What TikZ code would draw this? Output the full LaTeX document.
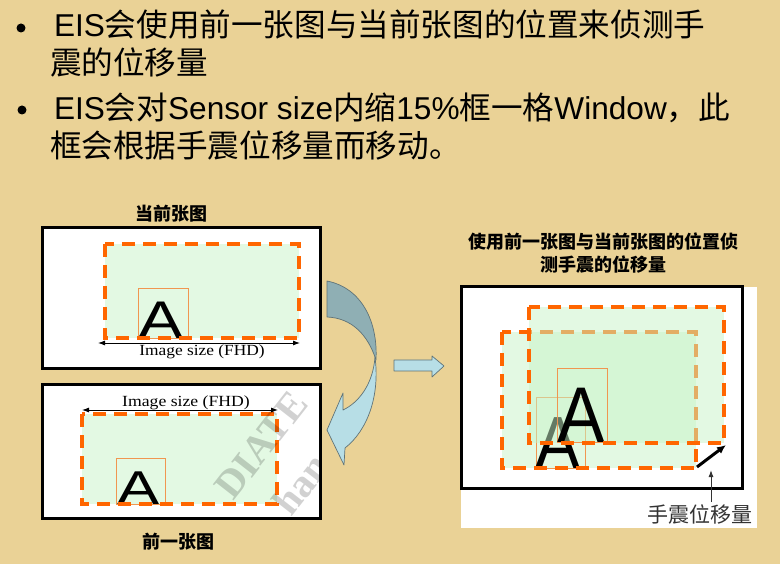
\documentclass[tikz,border=0pt]{standalone}
\usepackage{fontspec}
\setmainfont{Liberation Sans}
\newfontfamily\cjkf{Noto Sans CJK SC}
\newfontfamily\serifl{Liberation Serif}
\usetikzlibrary{arrows.meta}
\definecolor{bgtan}{RGB}{234,210,150}
\definecolor{eisorange}{RGB}{255,102,0}
\definecolor{thinorange}{RGB}{240,150,80}
\definecolor{winfill}{RGB}{200,245,200}
\definecolor{darkteal}{RGB}{143,175,180}
\definecolor{lightteal}{RGB}{183,222,230}
\definecolor{tealedge}{RGB}{95,115,120}
\newcommand{\Lt}[1]{{\fontsize{31.6}{31.6}\selectfont #1}}
\newcommand{\Ck}[1]{{\cjkf\fontsize{31.6}{31.6}\selectfont #1}}
\tikzset{
  txt/.style={inner sep=0pt, outer sep=0pt},
  frame/.style={draw=black, line width=3pt, fill=white},
  winbox/.style={draw=eisorange, line width=4pt, dash pattern=on 13pt off 8pt},
  winfillst/.style={fill=winfill, fill opacity=0.5},
  letterbox/.style={draw=thinorange, line width=0.8pt},
  dimarrow/.style={{Latex[length=7pt,width=5pt]}-{Latex[length=7pt,width=5pt]}, line width=0.9pt},
  dimlabel/.style={txt, font=\serifl\fontsize{15.5}{15.5}\selectfont},
  title/.style={txt, font=\cjkf\bfseries\fontsize{18}{18}\selectfont},
  bigA/.style={txt, anchor=base},
  blockarrow/.style={draw=tealedge, line width=0.7pt, line join=round},
  watermark/.style={txt, rotate=52, text=black, text opacity=0.18, font=\serifl\bfseries\fontsize{40}{40}\selectfont}
}
\begin{document}
\begin{tikzpicture}[x=1pt,y=-1pt]
\useasboundingbox (0,0) rectangle (780,564);
\fill[bgtan] (0,0) rectangle (780,564);

% ---- bullet text ----
\node[circle, fill=black, inner sep=0pt, minimum size=9pt] (b1) at (21,28) {};
\node[txt, anchor=base west] (l1) at (54,37) {\Lt{EIS}\Ck{会使用前一张图与当前张图的位置来侦测手}};
\node[txt, anchor=base west] (l2) at (50,75) {\Ck{震的位移量}};
\node[circle, fill=black, inner sep=0pt, minimum size=9pt] (b2) at (22,110) {};
\node[txt, anchor=base west] (l3) at (54,120) {\Lt{EIS}\Ck{会对}\Lt{Sensor size}\Ck{内缩}\Lt{15\%}\Ck{框一格}\Lt{Window}\Ck{，此}};
\node[txt, anchor=base west] (l4) at (50,158) {\Ck{框会根据手震位移量而移动。}};

% ---- current frame (top left) ----
\node[title] (tcur) at (171,214) {当前张图};
\draw[frame] (42,228) rectangle (320,369);
\fill[winfillst] (105,244) rectangle (299,338);
\draw[letterbox] (138,288) rectangle (188,338);
\node[bigA] (Acur) at (161,338) {\scalebox{1.27}[1]{\fontsize{53}{53}\selectfont A}};
\draw[winbox] (105,244) rectangle (299,338);
\coordinate (c1l) at (98,343);
\coordinate (c1r) at (300,343);
\draw[dimarrow] (c1l) -- (c1r);
\node[dimlabel] (dcur) at (202,352) {\scalebox{1.12}[1]{Image size (FHD)}};

% ---- previous frame (bottom left) ----
\draw[frame] (42,385) rectangle (320,518);
\fill[winfillst] (82,414) rectangle (277,504);
\draw[letterbox] (116,458) rectangle (165,504);
\node[bigA] (Aprev) at (139,504) {\scalebox{1.33}[1]{\fontsize{47.5}{47.5}\selectfont A}};
\draw[winbox] (82,414) rectangle (277,504);
\coordinate (c2l) at (82,410);
\coordinate (c2r) at (278,410);
\draw[dimarrow] (c2l) -- (c2r);
\node[dimlabel] (dprev) at (186,403) {\scalebox{1.14}[1]{Image size (FHD)}};
\begin{scope}
  \clip (43.5,386.5) rectangle (318.5,516.5);
  \node[watermark] (wm1) at (261,445) {DIATE};
  \node[watermark] (wm2) at (301,484) {han};
\end{scope}
\node[title] (tprev) at (178,542) {前一张图};

% ---- curved arrow ----
\filldraw[blockarrow, fill=lightteal] (375,357) .. controls (380,395) and (368,430) .. (345,448)
   -- (344,465) -- (327,430) -- (343,393) -- (343,410)
   .. controls (358,403) and (373,385) .. (375,357) -- cycle;
\filldraw[blockarrow, fill=darkteal] (327,281) .. controls (362,288) and (378,322) .. (376,360)
   .. controls (368,335) and (352,318) .. (327,317) -- cycle;

% ---- right block arrow ----
\filldraw[blockarrow, fill=lightteal] (394,360) -- (432,360) -- (432,356) -- (444,366)
   -- (432,377) -- (432,371) -- (394,371) -- cycle;

% ---- right panel ----
\node[title] (tr1) at (603,242) {使用前一张图与当前张图的位置侦};
\node[title] (tr2) at (603,265) {测手震的位移量};
\fill[white] (461,287) rectangle (757,528);
\draw[black, line width=3pt] (461,287) rectangle (742,488);
% previous window
\fill[winfillst] (502,332) rectangle (696,468);
\draw[letterbox] (536,397) rectangle (585,468);
\node[bigA] (Aold) at (558,468) {\scalebox{0.91}[1]{\fontsize{74}{74}\selectfont A}};
\draw[winbox] (502,332) rectangle (696,468);
% current window
\fill[winfillst] (529,307) rectangle (724,443);
\draw[letterbox] (557,368) rectangle (607,442);
\node[bigA] (Anew) at (581,442) {\scalebox{0.9}[1]{\fontsize{79}{79}\selectfont A}};
\draw[winbox] (529,307) rectangle (724,443);
% shift arrow
\coordinate (sh1) at (697,467);
\coordinate (sh2) at (726,445);
\draw[-{Latex[length=9pt,width=8pt]}, line width=3pt] (sh1) -- (sh2);
\node[txt, font=\cjkf\fontsize{21}{21}\selectfont, text=black!80] (shl) at (700,514) {手震位移量};
\coordinate (lp) at (711,470);
\draw[-{Latex[length=7pt,width=5pt]}, line width=1pt, black!80] (shl.north -| lp) ++(0,-2) -- (lp);
\end{tikzpicture}
\end{document}
